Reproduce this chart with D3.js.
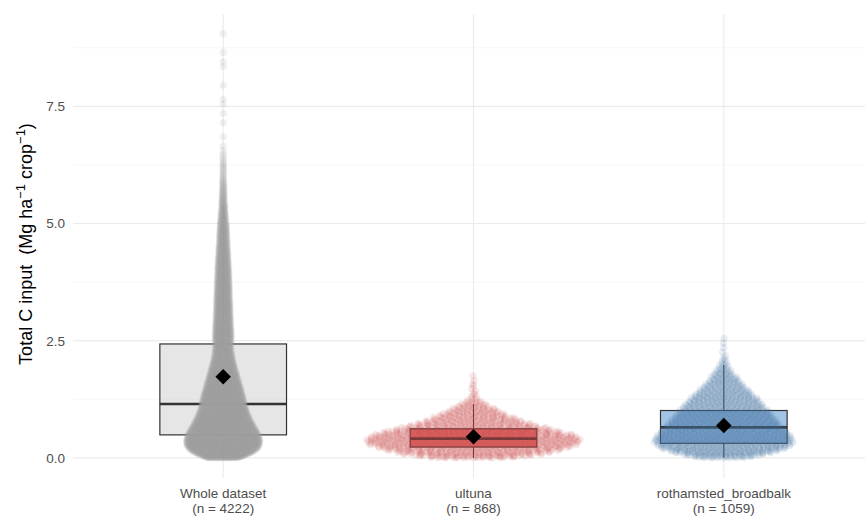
<!DOCTYPE html>
<html>
<head>
<meta charset="utf-8">
<script src="https://cdn.jsdelivr.net/npm/d3@7"></script>
<style>
  html, body { margin: 0; padding: 0; background: #ffffff; }
  svg { display: block; }
  text { font-family: "Liberation Sans", Arial, sans-serif; }
</style>
</head>
<body>
<svg id="chart" width="865" height="517"></svg>
<script>
// ---- data -------------------------------------------------------------
const categories = ["Whole dataset", "ultuna", "rothamsted_broadbalk"];
const sampleSizes = [4222, 868, 1059];

// Counts of observations per 0.1 Mg ha-1 bin, starting at 0
const binWidth = 0.1;
const wholeCounts = [
  175, 205, 225, 228, 222, 203, 186, 170, 156, 144,
  132, 128, 124, 116, 108, 100, 92, 84, 76, 68,
  60, 54, 50, 46, 45, 52, 50, 48, 46, 45,
  44, 43, 42, 41, 40, 39, 38, 37, 36, 35,
  34, 33, 30, 29, 28, 25, 24, 23, 22, 21,
  17, 15, 13, 11, 9, 8, 7, 6, 5, 4,
  3, 3, 3, 2, 2, 1, 1, 0, 1, 0,
  0, 1, 0, 1, 0, 1, 1, 0, 0, 1,
  0, 0, 0, 1, 1, 0, 1, 0, 0, 0,
  1
];
const ultunaCounts = [75, 90, 110, 118, 115, 98, 76, 58, 44, 33, 23, 14, 5, 3, 2, 2, 1, 1];
const rothamstedCounts = [
  55, 78, 90, 94, 88, 81, 75, 70, 65, 60,
  54, 50, 44, 38, 31, 25, 20, 15, 10, 6,
  4, 2, 1, 1, 1, 1
];

// Box plot summaries
const q1Values      = [0.49, 0.23, 0.31];
const medianValues  = [1.15, 0.41, 0.65];
const q3Values      = [2.43, 0.62, 1.01];
const whiskerLow    = [0.00, 0.00, 0.00];
const whiskerHigh   = [5.37, 1.15, 1.98];
const meanValues    = [1.73, 0.45, 0.69];

const yTicks = [0, 2.5, 5, 7.5];
const yMinorTicks = [1.25, 3.75, 6.25, 8.75];

// ---- styles -----------------------------------------------------------
const groupStyle = [
  { point: "#a3a3a3", pointAlpha: 0.16, fill: "#bdbdbd", fillAlpha: 0.38, spread: 37, adjust: 0.45 },
  { point: "#cc4444", pointAlpha: 0.13, fill: "#d83b3b", fillAlpha: 0.70, spread: 108, adjust: 0.85 },
  { point: "#47729f", pointAlpha: 0.13, fill: "#6fa3d6", fillAlpha: 0.65, spread: 70, adjust: 1 }
];

// ---- layout -----------------------------------------------------------
const svg = d3.select("#chart");
const panel = { left: 73, right: 874, top: 14, bottom: 478 };

const x = d3.scalePoint()
  .domain(categories)
  .range([panel.left, panel.right])
  .padding(0.6);

const y = d3.scaleLinear()
  .domain([-0.43, 9.47])
  .range([panel.bottom, panel.top]);

const step = x.step();
const boxHalf = step * 0.253;

// expand binned counts into observation values (evenly spaced within each bin)
function expand(counts) {
  const vals = [];
  counts.forEach((c, i) => {
    for (let j = 0; j < c; j++) vals.push(i * binWidth + (j + 0.5) / c * binWidth);
  });
  return vals;
}

// Gaussian KDE evaluated on a grid, bandwidth by Silverman's rule (nrd0) times adjust
function kdeOnGrid(vals, adjust) {
  const n = vals.length;
  const sd = d3.deviation(vals);
  const sorted = vals.slice().sort(d3.ascending);
  const iqr = d3.quantileSorted(sorted, 0.75) - d3.quantileSorted(sorted, 0.25);
  const bw = adjust * 0.9 * Math.min(sd, iqr / 1.34) * Math.pow(n, -0.2);
  const lo = sorted[0] - 3 * bw, hi = sorted[n - 1] + 3 * bw;
  const m = 512;
  const grid = d3.range(m).map(i => lo + (hi - lo) * i / (m - 1));
  const dens = grid.map(g => {
    let s = 0;
    for (let k = 0; k < n; k++) {
      const z = (g - sorted[k]) / bw;
      if (z > -6 && z < 6) s += Math.exp(-0.5 * z * z);
    }
    return s;
  });
  const maxD = d3.max(dens);
  return v => {
    const t = (v - lo) / (hi - lo) * (m - 1);
    const i = Math.max(0, Math.min(m - 2, Math.floor(t)));
    const f = t - i;
    return (dens[i] * (1 - f) + dens[i + 1] * f) / maxD;
  };
}

// van der Corput sequence, base 2
function vdc(n) {
  let v = 0, denom = 1;
  while (n > 0) { denom *= 2; v += (n % 2) / denom; n = Math.floor(n / 2); }
  return v;
}

const groupCounts = [wholeCounts, ultunaCounts, rothamstedCounts];

// ---- grid -------------------------------------------------------------
const grid = svg.append("g");
grid.selectAll("line.minor").data(yMinorTicks).join("line")
  .attr("x1", panel.left).attr("x2", panel.right)
  .attr("y1", d => y(d)).attr("y2", d => y(d))
  .attr("stroke", "#f2f2f2").attr("stroke-width", 0.6);
grid.selectAll("line.major").data(yTicks).join("line")
  .attr("x1", panel.left).attr("x2", panel.right)
  .attr("y1", d => y(d)).attr("y2", d => y(d))
  .attr("stroke", "#ebebeb").attr("stroke-width", 1.1);
grid.selectAll("line.vmajor").data(categories).join("line")
  .attr("x1", d => x(d)).attr("x2", d => x(d))
  .attr("y1", panel.top).attr("y2", panel.bottom)
  .attr("stroke", "#ebebeb").attr("stroke-width", 1.1);

// ---- boxes, points, means --------------------------------------------
categories.forEach((cat, gi) => {
  const cx = x(cat);
  const st = groupStyle[gi];
  const g = svg.append("g");

  // whiskers
  g.append("line")
    .attr("x1", cx).attr("x2", cx)
    .attr("y1", y(q3Values[gi])).attr("y2", y(whiskerHigh[gi]))
    .attr("stroke", "#333333").attr("stroke-width", 1.1);
  g.append("line")
    .attr("x1", cx).attr("x2", cx)
    .attr("y1", y(q1Values[gi])).attr("y2", y(whiskerLow[gi]))
    .attr("stroke", "#333333").attr("stroke-width", 1.1);
  // box
  g.append("rect")
    .attr("x", cx - boxHalf).attr("width", boxHalf * 2)
    .attr("y", y(q3Values[gi])).attr("height", y(q1Values[gi]) - y(q3Values[gi]))
    .attr("fill", st.fill).attr("fill-opacity", st.fillAlpha)
    .attr("stroke", "#333333").attr("stroke-width", 1.2);
  // median
  g.append("line")
    .attr("x1", cx - boxHalf).attr("x2", cx + boxHalf)
    .attr("y1", y(medianValues[gi])).attr("y2", y(medianValues[gi]))
    .attr("stroke", "#333333").attr("stroke-width", 2.6);

  // quasirandom point cloud
  const vals = expand(groupCounts[gi]);
  const dens = kdeOnGrid(vals, st.adjust);
  const order = d3.range(vals.length).sort((a, b) => vals[a] - vals[b]);
  const pts = order.map((idx, r) => {
    const v = vals[idx];
    const off = (vdc(r + 1) - 0.5) * 2 * dens(v) * st.spread;
    return { v, off };
  });
  g.append("g").selectAll("circle").data(pts).join("circle")
    .attr("cx", d => cx + d.off)
    .attr("cy", d => y(d.v))
    .attr("r", 3.6)
    .attr("fill", st.point)
    .attr("fill-opacity", st.pointAlpha);

  // mean marker
  g.append("path")
    .attr("d", d3.symbol(d3.symbolSquare, 120)())
    .attr("transform", `translate(${cx},${y(meanValues[gi])}) rotate(45)`)
    .attr("fill", "#000000");
});

// ---- axes labels ------------------------------------------------------
svg.append("g").selectAll("text").data(yTicks).join("text")
  .attr("x", 65).attr("y", d => y(d))
  .attr("dy", "0.36em")
  .attr("text-anchor", "end")
  .attr("font-size", 13.5)
  .attr("fill", "#4d4d4d")
  .text(d => d.toFixed(1));

const xl = svg.append("g").selectAll("text").data(categories).join("text")
  .attr("text-anchor", "middle")
  .attr("font-size", 13.5)
  .attr("fill", "#4d4d4d");
xl.append("tspan").attr("x", d => x(d)).attr("y", 498).text(d => d);
xl.append("tspan").attr("x", d => x(d)).attr("y", 513).text((d, i) => `(n = ${sampleSizes[i]})`);

// y title with superscripts
const yt = svg.append("text")
  .attr("transform", `translate(32,${(panel.top + panel.bottom) / 2 - 2}) rotate(-90)`)
  .attr("text-anchor", "middle")
  .attr("font-size", 18)
  .attr("fill", "#000000");
yt.append("tspan").text("Total C input \u00a0(Mg ha");
yt.append("tspan").attr("dy", -7).attr("font-size", 13).text("\u22121");
yt.append("tspan").attr("dy", 7).text(" crop");
yt.append("tspan").attr("dy", -7).attr("font-size", 13).text("\u22121");
yt.append("tspan").attr("dy", 7).text(")");
</script>
</body>
</html>
